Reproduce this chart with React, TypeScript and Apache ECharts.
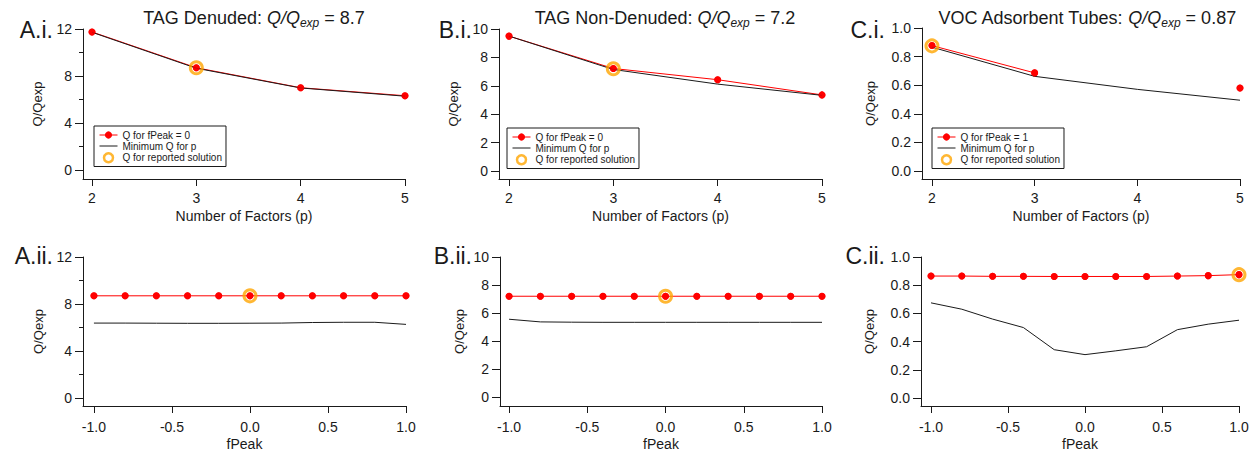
import React, { useEffect, useRef } from "react";
import * as echarts from "echarts";

const FONT = "'Liberation Sans', Arial, Helvetica, sans-serif";
const INK = "#1a1a1a";
const RED = "#ff0000";
const ORANGE = "#ffa500";

// ---- data ----
const factors = [2, 3, 4, 5];
const fpeaks = [-1, -0.8, -0.6, -0.4, -0.2, 0, 0.2, 0.4, 0.6, 0.8, 1];

const aQfPeak = [11.75, 8.7, 7.0, 6.32];
const aQmin = [11.72, 8.66, 6.98, 6.28];
const bQfPeak = [9.5, 7.22, 6.43, 5.36];
const bQmin = [9.5, 7.15, 6.12, 5.33];
const cQfPeak = [0.877, 0.686, null, 0.58];
const cQmin = [0.866, 0.662, 0.571, 0.495];

const aQfp2 = [8.7, 8.7, 8.7, 8.7, 8.7, 8.7, 8.7, 8.7, 8.7, 8.7, 8.7];
const aQmin2 = [6.38, 6.38, 6.37, 6.36, 6.36, 6.37, 6.38, 6.43, 6.45, 6.45, 6.27];
const bQfp2 = [7.2, 7.2, 7.2, 7.2, 7.2, 7.2, 7.2, 7.2, 7.2, 7.2, 7.2];
const bQmin2 = [5.56, 5.37, 5.35, 5.34, 5.34, 5.34, 5.34, 5.34, 5.34, 5.34, 5.34];
const cQfp2 = [0.865, 0.865, 0.863, 0.863, 0.862, 0.862, 0.862, 0.862, 0.865, 0.868, 0.875];
const cQmin2 = [0.675, 0.63, 0.56, 0.5, 0.343, 0.308, 0.335, 0.364, 0.485, 0.524, 0.552];

// reported solutions [x, y]
const aReported1 = [3, 8.7];
const bReported1 = [3, 7.2];
const cReported1 = [2, 0.875];
const aReported2 = [0, 8.7];
const bReported2 = [0, 7.2];
const cReported2 = [1, 0.875];

// tick labels
const factorTicks = [2, 3, 4, 5];
const fpeakTicks = [-1, -0.5, 0, 0.5, 1];
const aYTicks = [0, 4, 8, 12];
const aYMinor = [2, 6, 10];
const bYTicks = [0, 2, 4, 6, 8, 10];
const cYTicks = [0, 0.2, 0.4, 0.6, 0.8, 1.0];

const titles = [
  { pre: "TAG Denuded: ", post: " = 8.7" },
  { pre: "TAG Non-Denuded: ", post: " = 7.2" },
  { pre: "VOC Adsorbent Tubes: ", post: " = 0.87" },
];
const panelLabels = ["A.i.", "B.i.", "C.i.", "A.ii.", "B.ii.", "C.ii."];
const legendRed = ["Q for fPeak = 0", "Q for fPeak = 0", "Q for fPeak = 1"];
const MINQ = "Minimum Q for p";
const REPORTED = "Q for reported solution";

type Panel = {
  grid: { left: number; top: number; width: number; height: number };
  xr: number[];
  yr: number[];
  xTicks: number[];
  yTicks: number[];
  yMinor: number[];
  xDec: number;
  yDec: number;
  xName: string;
  xs: number[];
  red: (number | null)[];
  black: number[];
  ring: number[];
  redName: string;
  yNameGap: number;
  labelPos: number[];
};

const panels: Panel[] = [
  { grid: { left: 83, top: 29, width: 322, height: 150 }, xr: [1.914, 5], yr: [-0.77, 12], xTicks: factorTicks, yTicks: aYTicks, yMinor: aYMinor, xDec: 0, yDec: 0, xName: "Number of Factors (p)", xs: factors, red: aQfPeak, black: aQmin, ring: aReported1, redName: legendRed[0], yNameGap: 39, labelPos: [53, 30] },
  { grid: { left: 499, top: 29, width: 323, height: 150 }, xr: [1.904, 5], yr: [-0.56, 10], xTicks: factorTicks, yTicks: bYTicks, yMinor: [], xDec: 0, yDec: 0, xName: "Number of Factors (p)", xs: factors, red: bQfPeak, black: bQmin, ring: bReported1, redName: legendRed[1], yNameGap: 39, labelPos: [472, 30] },
  { grid: { left: 922, top: 28, width: 318, height: 151 }, xr: [1.903, 5], yr: [-0.056, 1.0], xTicks: factorTicks, yTicks: cYTicks, yMinor: [], xDec: 0, yDec: 1, xName: "Number of Factors (p)", xs: factors, red: cQfPeak, black: cQmin, ring: cReported1, redName: legendRed[2], yNameGap: 45, labelPos: [885, 30] },
  { grid: { left: 83, top: 257, width: 323, height: 151 }, xr: [-1.07, 1], yr: [-0.67, 12], xTicks: fpeakTicks, yTicks: aYTicks, yMinor: aYMinor, xDec: 1, yDec: 0, xName: "fPeak", xs: fpeaks, red: aQfp2, black: aQmin2, ring: aReported2, redName: "A fPeak", yNameGap: 38, labelPos: [53, 256] },
  { grid: { left: 500, top: 257, width: 322, height: 151 }, xr: [-1.058, 1], yr: [-0.63, 10], xTicks: fpeakTicks, yTicks: bYTicks, yMinor: [], xDec: 1, yDec: 0, xName: "fPeak", xs: fpeaks, red: bQfp2, black: bQmin2, ring: bReported2, redName: "B fPeak", yNameGap: 34, labelPos: [472, 256] },
  { grid: { left: 921, top: 257, width: 318, height: 151 }, xr: [-1.065, 1], yr: [-0.056, 1.0], xTicks: fpeakTicks, yTicks: cYTicks, yMinor: [], xDec: 1, yDec: 1, xName: "fPeak", xs: fpeaks, red: cQfp2, black: cQmin2, ring: cReported2, redName: "C fPeak", yNameGap: 45, labelPos: [885, 256] },
];

function buildOption() {
  const grid: any[] = [];
  const xAxis: any[] = [];
  const yAxis: any[] = [];
  const series: any[] = [];
  const axisLine = { show: true, onZero: false, lineStyle: { color: INK, width: 1 } };

  panels.forEach((p, k) => {
    grid.push({ ...p.grid, containLabel: false });
    const bottomRow = k >= 3;
    xAxis.push({
      type: "value",
      gridIndex: k,
      position: "bottom",
      min: p.xr[0],
      max: p.xr[1],
      axisLine,
      axisTick: { show: true, customValues: p.xTicks, length: 7, lineStyle: { color: INK } },
      axisLabel: {
        customValues: p.xTicks,
        formatter: (v: number) => v.toFixed(p.xDec),
        fontSize: 14,
        color: INK,
        fontFamily: FONT,
        margin: bottomRow ? 14 : 12,
      },
      splitLine: { show: false },
      name: p.xName,
      nameLocation: "middle",
      nameGap: bottomRow ? 31 : 30,
      nameTextStyle: { fontSize: 14, color: INK, fontFamily: FONT },
    });
    yAxis.push({
      type: "value",
      gridIndex: k,
      position: "left",
      min: p.yr[0],
      max: p.yr[1],
      axisLine,
      axisTick: { show: true, customValues: p.yTicks, length: 8, lineStyle: { color: INK } },
      axisLabel: {
        customValues: p.yTicks,
        formatter: (v: number) => v.toFixed(p.yDec),
        fontSize: 14,
        color: INK,
        fontFamily: FONT,
        margin: 11,
      },
      splitLine: { show: false },
      name: "Q/Qexp",
      nameLocation: "middle",
      nameGap: p.yNameGap,
      nameTextStyle: { fontSize: 13, color: INK, fontFamily: FONT },
    });
    const hasMinor = p.yMinor.length > 0;
    yAxis.push({
      type: "value",
      gridIndex: k,
      position: "left",
      offset: 0,
      min: p.yr[0],
      max: p.yr[1],
      show: hasMinor,
      axisLine: { show: false, onZero: false },
      axisTick: { show: hasMinor, customValues: hasMinor ? p.yMinor : [0], length: 4, lineStyle: { color: INK } },
      axisLabel: { show: false },
      splitLine: { show: false },
    });
    const yIdx = 2 * k;
    const redPts = p.xs.map((x, j) => [x, p.red[j]]);
    series.push({
      type: "line",
      name: p.redName,
      xAxisIndex: k,
      yAxisIndex: yIdx,
      data: redPts,
      symbol: "circle",
      symbolSize: 7,
      showSymbol: true,
      connectNulls: false,
      clip: false,
      lineStyle: { color: RED, width: 1 },
      itemStyle: { color: RED },
      z: 2,
    });
    series.push({
      type: "line",
      name: MINQ,
      xAxisIndex: k,
      yAxisIndex: yIdx,
      data: p.xs.map((x, j) => [x, p.black[j]]),
      symbol: "none",
      clip: false,
      lineStyle: { color: INK, width: 1 },
      itemStyle: { color: INK },
      z: 3,
    });
    series.push({
      type: "scatter",
      name: "dots" + k,
      xAxisIndex: k,
      yAxisIndex: yIdx,
      data: redPts.filter((d) => d[1] !== null),
      symbol: "circle",
      symbolSize: 7,
      clip: false,
      itemStyle: { color: RED },
      z: 4,
    });
    series.push({
      type: "scatter",
      name: REPORTED,
      xAxisIndex: k,
      yAxisIndex: yIdx,
      data: [p.ring],
      symbol: "circle",
      symbolSize: 12,
      clip: false,
      itemStyle: { color: "rgba(255,255,255,0)", borderColor: ORANGE, borderWidth: 3 },
      z: 5,
    });
  });

  const legendPos = [
    [94, 126],
    [507, 128],
    [932, 128],
  ];
  const legend = legendPos.map((pos, i) => ({
    orient: "vertical",
    left: pos[0],
    top: pos[1],
    padding: [4, 4, 3, 5],
    itemGap: 1,
    itemWidth: 18,
    itemHeight: 9,
    borderColor: INK,
    borderWidth: 1,
    backgroundColor: "#fff",
    selectedMode: false,
    lineStyle: { width: 1 },
    textStyle: { fontSize: 10, color: INK, fontFamily: FONT },
    data: [
      { name: legendRed[i] },
      { name: MINQ, itemStyle: { color: "rgba(0,0,0,0)", borderColor: "rgba(0,0,0,0)", borderWidth: 0, opacity: 0 } },
      { name: REPORTED, itemStyle: { color: "#fff", borderColor: ORANGE, borderWidth: 2.5 } },
    ],
  }));

  const graphic: any[] = [];
  const titleCenters = [254, 665, 1087];
  titles.forEach((t, i) => {
    graphic.push({
      type: "text",
      x: titleCenters[i],
      y: 18,
      style: {
        text: `{n|${t.pre}}{i|Q/Q}{s|exp}{n|${t.post}}`,
        align: "center",
        verticalAlign: "middle",
        fontFamily: FONT,
        fill: INK,
        rich: {
          n: { fontSize: 18, fontFamily: FONT, fill: INK, lineHeight: 22 },
          i: { fontSize: 18, fontFamily: FONT, fontStyle: "italic", fill: INK, lineHeight: 22 },
          s: { fontSize: 12, fontFamily: FONT, fontStyle: "italic", fill: INK, verticalAlign: "bottom" },
        },
      },
    });
  });
  panels.forEach((p, k) => {
    graphic.push({
      type: "text",
      x: p.labelPos[0],
      y: p.labelPos[1],
      style: {
        text: panelLabels[k],
        align: "right",
        verticalAlign: "middle",
        fontSize: 23,
        fontFamily: FONT,
        fill: INK,
      },
    });
  });

  return {
    animation: false,
    backgroundColor: "#fff",
    textStyle: { fontFamily: FONT },
    grid,
    xAxis,
    yAxis,
    series,
    legend,
    graphic,
  };
}

export default function App() {
  const ref = useRef<HTMLDivElement>(null);
  useEffect(() => {
    if (!ref.current) return;
    const chart = echarts.init(ref.current, undefined, { renderer: "svg" });
    chart.setOption(buildOption() as any);
    return () => chart.dispose();
  }, []);
  return (
    <div
      ref={ref}
      style={{ position: "absolute", left: 0, top: 0, width: 1252, height: 452, background: "#fff" }}
    />
  );
}
